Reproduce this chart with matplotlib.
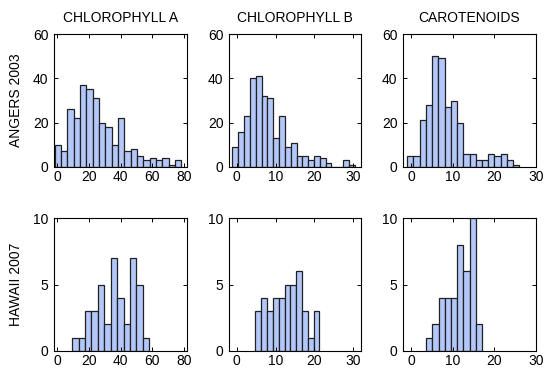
import matplotlib
matplotlib.use("Agg")
import matplotlib.pyplot as plt
import numpy as np

plt.rcParams['font.family'] = ['Liberation Sans', 'DejaVu Sans']

col_titles = ["CHLOROPHYLL A", "CHLOROPHYLL B", "CAROTENOIDS"]
row_labels = ["ANGERS 2003", "HAWAII 2007"]

# Angers 2003 counts
angers_chla = [10, 7, 26, 22, 37, 35, 31, 20, 18, 10, 22, 7, 8, 5, 3, 4, 3, 4, 1, 3]
angers_chlb = [9, 16, 23, 40, 41, 32, 31, 13, 23, 9, 11, 5, 5, 3, 5, 4, 2, 0, 0, 3, 1]
angers_car = [5, 5, 21, 28, 50, 49, 27, 30, 20, 6, 6, 3, 3, 6, 5, 6, 3, 1]
# Hawaii 2007 counts
hawaii_chla = [1, 1, 3, 3, 5, 2, 7, 4, 2, 7, 5, 1]
hawaii_chlb = [3, 4, 3, 4, 4, 5, 5, 6, 3, 1, 3]
hawaii_car = [1, 2, 4, 4, 4, 8, 6, 10, 2]

# first bin edge and bin width per panel
bin_start = [[-1.6, -1.1, -1.0], [9.5, 4.8, 3.55]]
bin_width = [[4.0, 1.5, 1.5], [4.05, 1.5, 1.5]]

counts = [[angers_chla, angers_chlb, angers_car], [hawaii_chla, hawaii_chlb, hawaii_car]]

xlims = [(-2, 82), (-2, 32), (-2, 30)]
xticks = [[0, 20, 40, 60, 80], [0, 10, 20, 30], [0, 10, 20, 30]]
ylims = [(0, 60), (0, 10)]
yticks = [[0, 20, 40, 60], [0, 5, 10]]

W, H = 544, 369
fig = plt.figure(figsize=(W / 100, H / 100), dpi=100)

col_lr = [(54, 187), (229, 361), (403, 536)]
row_tb = [(34, 167), (218, 351)]

face = '#b3c7fa'
edge = '#202020'

for r in range(2):
    for c in range(3):
        l, rr = col_lr[c]
        t, b = row_tb[r]
        ax = fig.add_axes([l / W, 1 - b / H, (rr - l) / W, (b - t) / H])
        vals = counts[r][c]
        edges = bin_start[r][c] + bin_width[r][c] * np.arange(len(vals))
        ax.bar(edges, vals, width=bin_width[r][c], align='edge',
               color=face, edgecolor=edge, linewidth=0.9)
        ax.set_xlim(*xlims[c])
        ax.set_ylim(*ylims[r])
        ax.set_xticks(xticks[c])
        ax.set_yticks(yticks[r])
        ax.tick_params(direction='in', top=True, right=True, length=3,
                       width=0.7, labelsize=10, color='black')
        ax.tick_params(axis='x', pad=2)
        ax.tick_params(axis='y', pad=4)
        for s in ax.spines.values():
            s.set_linewidth(0.8)
            s.set_color('black')
        if r == 0:
            ax.set_title(col_titles[c], fontsize=10, pad=8.5)
        if c == 0:
            ax.set_ylabel(row_labels[r], fontsize=10, labelpad=7)

fig.savefig("out.png", dpi=100)
